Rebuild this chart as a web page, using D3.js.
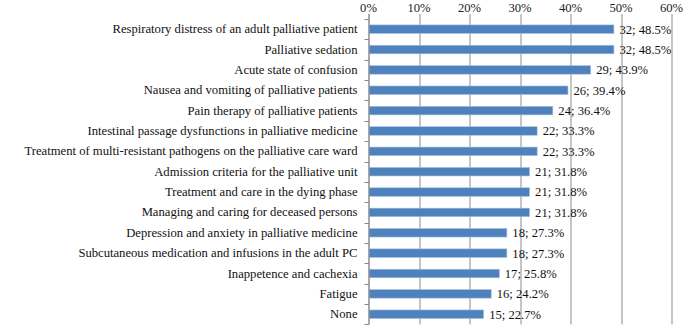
<!DOCTYPE html>
<html>
<head>
<meta charset="utf-8">
<script src="https://cdn.jsdelivr.net/npm/d3@7"></script>
<style>
  body { margin: 0; background: #fff; }
</style>
</head>
<body>
<div id="chart"></div>
<script>
const categories = [
  "Respiratory distress of an adult palliative patient",
  "Palliative sedation",
  "Acute state of confusion",
  "Nausea and vomiting of palliative patients",
  "Pain therapy of palliative patients",
  "Intestinal passage dysfunctions in palliative medicine",
  "Treatment of multi-resistant pathogens on the palliative care ward",
  "Admission criteria for the palliative unit",
  "Treatment and care in the dying phase",
  "Managing and caring for deceased persons",
  "Depression and anxiety in palliative medicine",
  "Subcutaneous medication and infusions in the adult PC",
  "Inappetence and cachexia",
  "Fatigue",
  "None"
]
const counts = [32, 32, 29, 26, 24, 22, 22, 21, 21, 21, 18, 18, 17, 16, 15]
const percents = [48.5, 48.5, 43.9, 39.4, 36.4, 33.3, 33.3, 31.8, 31.8, 31.8, 27.3, 27.3, 25.8, 24.2, 22.7]
const xTicks = [0, 10, 20, 30, 40, 50, 60]

const FONT_STYLE = "font-family:'Liberation Serif'; font-size:12.65px"
const margin = { top: 19, right: 13.5, bottom: 2.6, left: 368.5 }
const W = 685, H = 327
const w = W - margin.left - margin.right
const h = H - margin.top - margin.bottom

const data = categories.map((c, i) => ({ cat: c, n: counts[i], p: percents[i] }))

const svg = d3.select("#chart")
  .append("svg")
  .attr("width", W)
  .attr("height", H)
  .append("g")
  .attr("transform", "translate(" + margin.left + "," + margin.top + ")")

const x = d3.scaleLinear().domain([0, 60]).range([0, w])
const y = d3.scaleBand().domain(categories).range([0, h]).paddingInner(0.58).paddingOuter(0.29)

// gridlines (extend up as top ticks)
svg.selectAll(".grid")
  .data(xTicks)
  .enter()
  .append("line")
  .attr("x1", d => Math.round(x(d)) + 0.5)
  .attr("x2", d => Math.round(x(d)) + 0.5)
  .attr("y1", -5)
  .attr("y2", h)
  .attr("stroke", "#8c8c8c")
  .attr("stroke-width", 1)

// top tick labels
svg.selectAll(".xlab")
  .data(xTicks)
  .enter()
  .append("text")
  .attr("x", d => x(d))
  .attr("y", -7)
  .attr("text-anchor", "middle")
  .attr("style", FONT_STYLE)
  .attr("fill", "#222")
  .text(d => d + "%")

// bars
svg.selectAll(".bar")
  .data(data)
  .enter()
  .append("rect")
  .attr("x", 0.5)
  .attr("y", d => y(d.cat))
  .attr("width", d => x(d.p))
  .attr("height", y.bandwidth())
  .attr("fill", "#4f81bd")
  .attr("stroke", "#a7c0de")
  .attr("stroke-width", 0.6)

// category labels
const yAxis = d3.axisLeft(y).tickSize(0).tickPadding(11)
const ga = svg.append("g").call(yAxis)
ga.select(".domain").remove()
ga.selectAll("text")
  .attr("style", FONT_STYLE)
  .attr("fill", "#111")

// left axis line + category boundary ticks
svg.append("line")
  .attr("x1", 0.5).attr("x2", 0.5)
  .attr("y1", -5).attr("y2", h)
  .attr("stroke", "#8c8c8c")

const step = h / categories.length
svg.selectAll(".ytick")
  .data(d3.range(categories.length + 1))
  .enter()
  .append("line")
  .attr("x1", -4).attr("x2", 0.5)
  .attr("y1", d => Math.round(d * step) + 0.5)
  .attr("y2", d => Math.round(d * step) + 0.5)
  .attr("stroke", "#8c8c8c")

// value labels
svg.selectAll(".val")
  .data(data)
  .enter()
  .append("text")
  .attr("x", d => x(d.p) + 6)
  .attr("y", d => y(d.cat) + y.bandwidth() / 2)
  .attr("dy", "0.35em")
  .attr("style", FONT_STYLE)
  .attr("fill", "#111")
  .text(d => d.n + "; " + d.p.toFixed(1) + "%")
</script>
</body>
</html>
